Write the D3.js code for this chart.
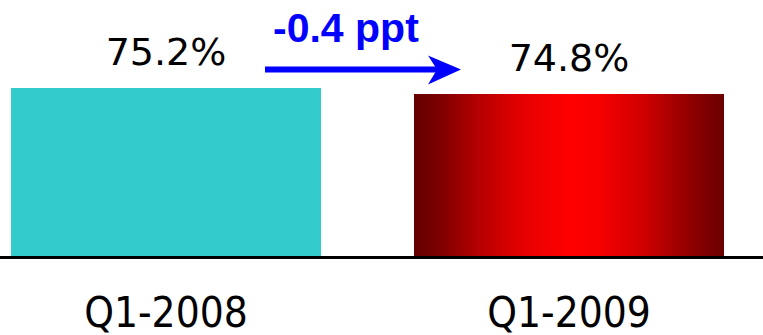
<!DOCTYPE html>
<html>
<head>
<meta charset="utf-8">
<script src="https://cdn.jsdelivr.net/npm/d3@7"></script>
<style>
  html, body { margin: 0; padding: 0; background: #fff; }
  svg { display: block; }
</style>
</head>
<body>
<svg id="chart" width="763" height="335"></svg>
<script>
// Quarterly rates compared year over year
const categories = ["Q1-2008", "Q1-2009"];
const values = [75.2, 74.8];
const valueLabels = ["75.2%", "74.8%"];

const svg = d3.select("#chart");
const W = 763, H = 335;
const baseY = 256;

const x = d3.scaleBand()
  .domain(categories)
  .range([11, 724])
  .paddingInner(0.2308)
  .paddingOuter(0);

const y = d3.scaleLinear()
  .domain([64, 80])
  .range([baseY, 16]);

// Horizontal red shading for the second bar
const defs = svg.append("defs");
const grad = defs.append("linearGradient")
  .attr("id", "redShade")
  .attr("x1", "0%").attr("x2", "100%")
  .attr("y1", "0%").attr("y2", "0%");
[
  [0, "#640000"],
  [0.08, "#7c0000"],
  [0.2, "#b20000"],
  [0.35, "#e60000"],
  [0.5, "#ff0000"],
  [0.6, "#f60000"],
  [0.75, "#cc0000"],
  [0.88, "#940000"],
  [1, "#6a0000"]
].forEach(([o, c]) => grad.append("stop").attr("offset", o).attr("stop-color", c));

const fills = ["#33cccc", "url(#redShade)"];

svg.append("g")
  .selectAll("rect")
  .data(categories)
  .join("rect")
  .attr("x", d => x(d))
  .attr("y", (d, i) => y(values[i]))
  .attr("width", x.bandwidth())
  .attr("height", (d, i) => baseY - y(values[i]))
  .attr("fill", (d, i) => fills[i]);

// Value labels above bars
svg.append("g")
  .selectAll("text")
  .data(categories)
  .join("text")
  .attr("x", d => x(d) + x.bandwidth() / 2)
  .attr("y", (d, i) => y(values[i]) - 23)
  .attr("text-anchor", "middle")
  .attr("font-family", "DejaVu Sans, sans-serif")
  .attr("font-size", 38)
  .attr("fill", "#000")
  .text((d, i) => valueLabels[i]);

// Baseline
svg.append("line")
  .attr("x1", 0).attr("x2", W)
  .attr("y1", baseY + 1.5).attr("y2", baseY + 1.5)
  .attr("stroke", "#000")
  .attr("stroke-width", 3);

// Category axis
const axis = svg.append("g")
  .attr("transform", `translate(0,${baseY})`)
  .call(d3.axisBottom(x).tickSize(0).tickPadding(0));
axis.select(".domain").remove();
axis.selectAll("text")
  .attr("dy", null)
  .attr("y", 71)
  .attr("font-family", "DejaVu Sans Condensed, DejaVu Sans, sans-serif")
  .attr("font-size", 42)
  .attr("fill", "#000");

// Change annotation: arrow and difference text
const change = (values[1] - values[0]).toFixed(1);
const ax0 = 265, ax1 = 461, ay = 69.5;
svg.append("line")
  .attr("x1", ax0).attr("x2", 440)
  .attr("y1", ay).attr("y2", ay)
  .attr("stroke", "#0000ff")
  .attr("stroke-width", 6);
svg.append("path")
  .attr("d", `M${ax1},${ay} L${ax1 - 33},${ay - 14} L${ax1 - 24},${ay} L${ax1 - 33},${ay + 15} Z`)
  .attr("fill", "#0000ff");
svg.append("text")
  .attr("x", 273)
  .attr("y", 42)
  .attr("font-family", "Liberation Sans, Arial, sans-serif")
  .attr("font-weight", "bold")
  .attr("font-size", 41)
  .attr("fill", "#0000ff")
  .text(`${change} ppt`);
</script>
</body>
</html>
